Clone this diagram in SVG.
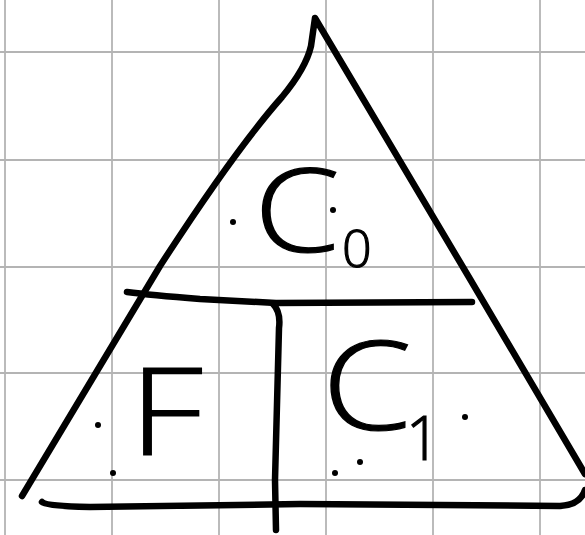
<svg xmlns="http://www.w3.org/2000/svg" width="585" height="535" viewBox="0 0 585 535">
<style>
.grid{stroke:#b4b4b4;stroke-width:1.8;fill:none}
.ink{stroke:#000;stroke-width:6.5;fill:none;stroke-linecap:round;stroke-linejoin:round}
.lbl{font-family:"Open Sans","Liberation Sans",sans-serif;font-weight:300;fill:#000;stroke:#000;stroke-width:1.2}
.dot{fill:#000}
</style>
<rect width="585" height="535" fill="#fff"/>
<g id="grid">
<path class="grid" d="M5 0V535M112 0V535M219 0V535M326 0V535M433 0V535M540 0V535M0 52H585M0 160H585M0 267H585M0 373H585M0 480H585"/>
</g>
<g id="triangle">
<path class="ink" d="M22 496 L160 266 Q235 150 282 97 Q306 68 311 46 L315 18 L470 279 L585 474"/>
<path class="ink" d="M42 502 Q46 506 90 507 L300 504 L560 506 Q580 505 585 490"/>
<path class="ink" d="M127 292 Q150 295 200 299 L276 303 L472 302"/>
<path class="ink" d="M273 304 Q281 312 279 328 L275 480 L276 530"/>
</g>
<g id="C0">
<text class="lbl" x="254" y="252" font-size="116" textLength="86" lengthAdjust="spacingAndGlyphs">C</text>
<text class="lbl" x="342" y="267" font-size="52">0</text>
</g>
<g id="F">
<text class="lbl" x="129" y="455" font-size="122" textLength="74" lengthAdjust="spacingAndGlyphs">F</text>
</g>
<g id="C1">
<text class="lbl" x="322" y="430" font-size="124" textLength="90" lengthAdjust="spacingAndGlyphs">C</text>
<text class="lbl" x="406" y="460" font-size="60">1</text>
</g>
<g id="dots">
<circle class="dot" cx="233" cy="222" r="3"/>
<circle class="dot" cx="333" cy="210" r="3"/>
<circle class="dot" cx="98" cy="425" r="3"/>
<circle class="dot" cx="113" cy="473" r="3"/>
<circle class="dot" cx="360" cy="462" r="3"/>
<circle class="dot" cx="335" cy="473" r="3"/>
<circle class="dot" cx="465" cy="417" r="3"/>
</g>
</svg>
